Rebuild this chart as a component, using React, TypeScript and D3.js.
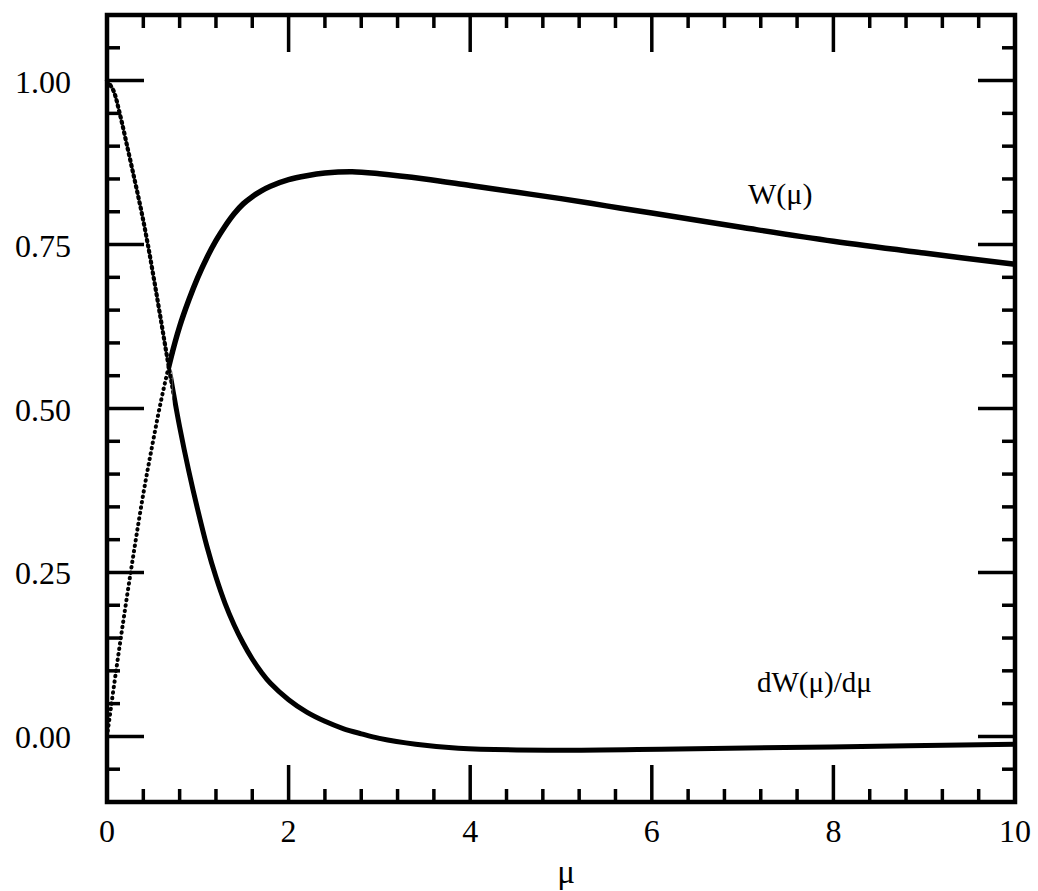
import React from "react";
import * as d3 from "d3";

// ---- data ----
const muW = [0, 0.1, 0.2, 0.3, 0.4, 0.5, 0.6, 0.7, 0.8, 0.9, 1.0, 1.1, 1.2, 1.3, 1.4, 1.5, 1.6, 1.7, 1.8, 2.0, 2.2, 2.4, 2.7, 3.0, 3.5, 4.0, 4.5, 5.0, 5.5, 6.0, 7.0, 8.0, 9.0, 10];
const valW = [0, 0.1, 0.195, 0.285, 0.37, 0.445, 0.515, 0.575, 0.625, 0.665, 0.7, 0.73, 0.756, 0.778, 0.797, 0.812, 0.823, 0.832, 0.839, 0.849, 0.855, 0.859, 0.861, 0.858, 0.85, 0.84, 0.83, 0.82, 0.809, 0.798, 0.776, 0.755, 0.737, 0.72];

const muD = [0, 0.07, 0.14, 0.23, 0.31, 0.38, 0.45, 0.52, 0.59, 0.66, 0.73, 0.8, 0.9, 1.0, 1.1, 1.2, 1.3, 1.4, 1.5, 1.6, 1.7, 1.8, 2.0, 2.2, 2.4, 2.6, 2.8, 3.0, 3.4, 3.87, 4.85, 6.29, 7.97, 10];
const valD = [1.0, 0.985, 0.95, 0.895, 0.845, 0.8, 0.75, 0.695, 0.638, 0.58, 0.525, 0.472, 0.405, 0.345, 0.29, 0.243, 0.203, 0.17, 0.142, 0.118, 0.098, 0.081, 0.056, 0.037, 0.023, 0.012, 0.004, -0.003, -0.012, -0.018, -0.021, -0.019, -0.016, -0.012];

const xTickLabels = ["0", "2", "4", "6", "8", "10"];
const yTickLabels = ["0.00", "0.25", "0.50", "0.75", "1.00"];
const xMajor = [0, 2, 4, 6, 8, 10];
const yMajor = [0, 0.25, 0.5, 0.75, 1.0];

const xDomain: [number, number] = [0, 10];
const yDomain: [number, number] = [-0.1, 1.1];

const FONT = "'Liberation Serif', 'Times New Roman', serif";

export default function App() {
  const left = 107, right = 1015, top = 15, bottom = 802;
  const x = d3.scaleLinear().domain(xDomain).range([left, right]);
  const y = d3.scaleLinear().domain(yDomain).range([bottom, top]);

  const xMinor = d3.range(0, 10.0001, 0.4).filter((v) => Math.abs(v / 2 - Math.round(v / 2)) > 1e-6);
  const yMinor = d3.range(-0.05, 1.06, 0.05).filter((v) => Math.abs(v / 0.25 - Math.round(v / 0.25)) > 1e-6);

  const line = d3
    .line<[number, number]>()
    .x((d) => x(d[0]))
    .y((d) => y(d[1]))
    .curve(d3.curveCatmullRom.alpha(0.5));

  const dataW: [number, number][] = muW.map((m, i) => [m, valW[i]]);
  const dataD: [number, number][] = muD.map((m, i) => [m, valD[i]]);
  const pathW = line(dataW) || "";
  const pathD = line(dataD) || "";

  const splitW = x(0.68);
  const splitD = x(0.72);

  const MAJ = 37, MIN = 13;
  const tickW = 3.5;

  return (
    <svg width={1038} height={891} style={{ position: "absolute", left: 0, top: 0, background: "#fff" }}>
      <defs>
        <clipPath id="wDot"><rect x={0} y={0} width={splitW} height={891} /></clipPath>
        <clipPath id="wSol"><rect x={splitW} y={0} width={1038 - splitW} height={891} /></clipPath>
        <clipPath id="dDot"><rect x={0} y={0} width={splitD} height={891} /></clipPath>
        <clipPath id="dSol"><rect x={splitD} y={0} width={1038 - splitD} height={891} /></clipPath>
      </defs>

      {/* ticks: x on bottom & top, y on left & right */}
      <g stroke="#000" strokeWidth={tickW}>
        {xMajor.slice(1, -1).map((v) => (
          <g key={"xM" + v}>
            <line x1={x(v)} x2={x(v)} y1={bottom} y2={bottom - MAJ} />
            <line x1={x(v)} x2={x(v)} y1={top} y2={top + MAJ} />
          </g>
        ))}
        {xMinor.map((v) => (
          <g key={"xm" + v}>
            <line x1={x(v)} x2={x(v)} y1={bottom} y2={bottom - MIN} />
            <line x1={x(v)} x2={x(v)} y1={top} y2={top + MIN} />
          </g>
        ))}
        {yMajor.map((v) => (
          <g key={"yM" + v}>
            <line x1={left} x2={left + MAJ} y1={y(v)} y2={y(v)} />
            <line x1={right} x2={right - MAJ} y1={y(v)} y2={y(v)} />
          </g>
        ))}
        {yMinor.map((v) => (
          <g key={"ym" + v.toFixed(2)}>
            <line x1={left} x2={left + MIN} y1={y(v)} y2={y(v)} />
            <line x1={right} x2={right - MIN} y1={y(v)} y2={y(v)} />
          </g>
        ))}
      </g>

      {/* curves */}
      <g fill="none" stroke="#000">
        <path d={pathW} clipPath="url(#wDot)" strokeWidth={4} strokeDasharray="0.5 5" strokeLinecap="round" />
        <path d={pathW} clipPath="url(#wSol)" strokeWidth={5.5} />
        <path d={pathD} clipPath="url(#dDot)" strokeWidth={4.2} strokeDasharray="1.5 4" strokeLinecap="round" />
        <path d={pathD} clipPath="url(#dSol)" strokeWidth={5} />
      </g>

      {/* frame */}
      <rect x={left} y={top} width={right - left} height={bottom - top} fill="none" stroke="#000" strokeWidth={4.5} />

      {/* tick labels */}
      <g fontFamily={FONT} fontSize={32} fill="#000">
        {xMajor.map((v, i) => (
          <text key={"xl" + v} x={x(v)} y={842} textAnchor="middle">{xTickLabels[i]}</text>
        ))}
        {yMajor.map((v, i) => (
          <text key={"yl" + v} x={71} y={y(v) + 12} textAnchor="end">{yTickLabels[i]}</text>
        ))}
      </g>

      {/* axis title & curve labels */}
      <text x={566} y={883} textAnchor="middle" fontFamily={FONT} fontSize={33}>μ</text>
      <text x={748} y={204} fontFamily={FONT} fontSize={30}>W(μ)</text>
      <text x={757} y={692} fontFamily={FONT} fontSize={29}>dW(μ)/dμ</text>
    </svg>
  );
}
